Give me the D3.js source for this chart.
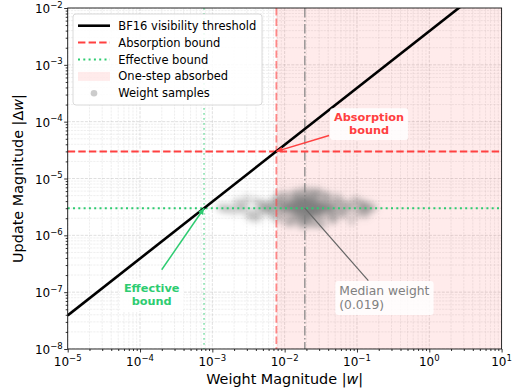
<!DOCTYPE html>
<html>
<head>
<meta charset="utf-8">
<script src="https://cdn.jsdelivr.net/npm/d3@7"></script>
<style>
  body { margin: 0; background: #fff; }
  svg { display: block; font-family: "DejaVu Sans", sans-serif; }
</style>
</head>
<body>
<svg id="chart" width="512" height="389"></svg>
<script>
// ---- data ----
const xDomain = [1e-5, 1e1];
const yDomain = [1e-8, 1e-2];
const xTickExps = [-5, -4, -3, -2, -1, 0, 1];
const yTickExps = [-8, -7, -6, -5, -4, -3, -2];

// BF16 has 8 significand bits: updates smaller than |w| / 2^8 vanish
const bf16Ratio = 1 / 256;
const absorptionW = 0.00768, absorptionDw = 3e-5;
const effectiveW = 0.000768, effectiveDw = 3e-6;
const medianW = 0.019, medianDw = 3e-6;

const legendLabels = ["BF16 visibility threshold", "Absorption bound", "Effective bound", "One-step absorbed", "Weight samples"];

// sampled weight magnitudes and their update magnitudes
const sampleW = [
  0.019, 0.022, 0.016, 0.025, 0.013, 0.031, 0.018, 0.021, 0.011, 0.027,
  0.017, 0.024, 0.020, 0.014, 0.035, 0.019, 0.023, 0.012, 0.029, 0.016,
  0.021, 0.018, 0.026, 0.015, 0.020, 0.033, 0.010, 0.022, 0.017, 0.028,
  0.019, 0.013, 0.024, 0.021, 0.016, 0.038, 0.020, 0.009, 0.025, 0.018,
  0.023, 0.015, 0.030, 0.019, 0.012, 0.026, 0.017, 0.022, 0.041, 0.014,
  0.020, 0.024, 0.016, 0.019, 0.032, 0.011, 0.021, 0.018, 0.027, 0.015,
  0.022, 0.019, 0.013, 0.029, 0.017, 0.024, 0.020, 0.036, 0.016, 0.021,
  0.010, 0.025, 0.018, 0.023, 0.014, 0.020, 0.031, 0.017, 0.022, 0.019,
  0.017, 0.023, 0.014, 0.028, 0.020, 0.012, 0.026, 0.018, 0.034, 0.015,
  0.021, 0.029, 0.016, 0.024, 0.011, 0.019, 0.037, 0.022, 0.013, 0.027,
  0.018, 0.031, 0.015, 0.025, 0.020, 0.009, 0.023, 0.017, 0.043, 0.014,
  0.026, 0.019, 0.012, 0.030, 0.021, 0.016, 0.024, 0.010, 0.028, 0.018,
  0.022, 0.015, 0.033, 0.020, 0.013, 0.025, 0.017, 0.039, 0.019, 0.023,
  0.011, 0.027, 0.016, 0.021, 0.035, 0.014, 0.024, 0.018, 0.029, 0.020,
  0.0060, 0.052, 0.0075, 0.046, 0.0085, 0.060, 0.0050, 0.043, 0.0068, 0.070,
  0.0080, 0.055, 0.0058, 0.048, 0.0090, 0.065, 0.0064, 0.040, 0.0072, 0.082,
  0.0055, 0.050, 0.0078, 0.058, 0.0045, 0.044, 0.0088, 0.075, 0.0066, 0.053,
  0.012, 0.037, 0.0095, 0.062, 0.0070, 0.047, 0.0052, 0.068, 0.0083, 0.042,
  0.015, 0.030, 0.011, 0.034, 0.024, 0.013, 0.028, 0.017, 0.039, 0.021,
  0.014, 0.033, 0.026, 0.010, 0.045, 0.019, 0.016, 0.027, 0.012, 0.036,
  0.0013, 0.15, 0.0020, 0.12, 0.0028, 0.13, 0.0035, 0.11, 0.0024, 0.14,
  0.0040, 0.10, 0.0017, 0.12, 0.0032, 0.17, 0.0046, 0.095, 0.0026, 0.13,
  0.0038, 0.090, 0.0022, 0.11, 0.0030, 0.14, 0.0044, 0.085, 0.0015, 0.12,
  0.018, 0.025, 0.014, 0.021, 0.030, 0.016, 0.022, 0.011, 0.027, 0.019
];
const sampleDw = [
  3.0e-6, 2.6e-6, 3.5e-6, 2.9e-6, 3.8e-6, 3.2e-6, 2.3e-6, 3.9e-6, 2.7e-6, 3.3e-6,
  3.6e-6, 2.4e-6, 3.0e-6, 4.3e-6, 2.9e-6, 2.1e-6, 3.5e-6, 3.2e-6, 2.6e-6, 4.1e-6,
  2.9e-6, 3.8e-6, 3.2e-6, 2.4e-6, 4.4e-6, 3.0e-6, 3.3e-6, 2.7e-6, 3.6e-6, 2.3e-6,
  3.9e-6, 3.0e-6, 2.6e-6, 3.5e-6, 2.9e-6, 3.2e-6, 4.6e-6, 3.3e-6, 2.7e-6, 3.8e-6,
  2.4e-6, 3.2e-6, 3.5e-6, 2.0e-6, 3.0e-6, 4.1e-6, 2.9e-6, 3.6e-6, 3.0e-6, 2.6e-6,
  3.3e-6, 4.3e-6, 2.7e-6, 3.2e-6, 2.4e-6, 3.6e-6, 2.9e-6, 3.9e-6, 3.2e-6, 3.0e-6,
  2.1e-6, 3.5e-6, 3.0e-6, 2.7e-6, 3.8e-6, 3.3e-6, 2.6e-6, 3.2e-6, 4.4e-6, 2.9e-6,
  3.3e-6, 2.4e-6, 3.6e-6, 3.0e-6, 2.7e-6, 3.9e-6, 2.9e-6, 3.5e-6, 2.3e-6, 3.2e-6,
  3.4e-6, 2.8e-6, 3.1e-6, 3.7e-6, 2.5e-6, 3.3e-6, 2.9e-6, 4.0e-6, 3.0e-6, 2.6e-6,
  3.5e-6, 3.1e-6, 2.2e-6, 3.9e-6, 3.2e-6, 2.7e-6, 3.4e-6, 2.4e-6, 3.8e-6, 3.0e-6,
  2.9e-6, 3.6e-6, 3.3e-6, 2.5e-6, 4.2e-6, 3.1e-6, 2.7e-6, 3.5e-6, 3.0e-6, 2.8e-6,
  3.2e-6, 2.3e-6, 3.6e-6, 3.4e-6, 2.9e-6, 4.1e-6, 3.0e-6, 2.6e-6, 3.3e-6, 3.7e-6,
  2.6e-6, 3.9e-6, 2.8e-6, 3.5e-6, 3.1e-6, 2.4e-6, 3.7e-6, 3.2e-6, 2.9e-6, 3.3e-6,
  3.0e-6, 3.5e-6, 2.7e-6, 2.5e-6, 3.1e-6, 3.4e-6, 3.9e-6, 2.8e-6, 2.6e-6, 3.2e-6,
  3.0e-6, 2.7e-6, 3.6e-6, 3.3e-6, 2.4e-6, 3.0e-6, 3.2e-6, 2.3e-6, 2.9e-6, 3.5e-6,
  3.9e-6, 4.1e-6, 2.6e-6, 2.0e-6, 3.2e-6, 2.6e-6, 3.8e-6, 4.4e-6, 2.1e-6, 3.0e-6,
  2.9e-6, 3.6e-6, 4.4e-6, 2.4e-6, 2.7e-6, 3.0e-6, 1.9e-6, 3.3e-6, 3.2e-6, 4.8e-6,
  1.6e-6, 5.3e-6, 4.3e-6, 3.8e-6, 2.4e-6, 1.8e-6, 3.5e-6, 2.3e-6, 5.0e-6, 2.7e-6,
  5.7e-6, 1.6e-6, 5.1e-6, 1.5e-6, 5.5e-6, 1.9e-6, 5.9e-6, 1.5e-6, 4.8e-6, 1.8e-6,
  5.3e-6, 2.0e-6, 1.6e-6, 5.0e-6, 2.1e-6, 6.1e-6, 1.8e-6, 5.5e-6, 2.0e-6, 4.6e-6,
  3.1e-6, 2.9e-6, 2.7e-6, 3.4e-6, 3.5e-6, 2.6e-6, 2.5e-6, 3.8e-6, 3.2e-6, 3.0e-6,
  4.0e-6, 2.4e-6, 3.0e-6, 3.2e-6, 2.2e-6, 3.1e-6, 3.6e-6, 4.3e-6, 2.8e-6, 2.3e-6,
  2.0e-6, 3.6e-6, 3.9e-6, 2.7e-6, 4.4e-6, 3.5e-6, 2.1e-6, 1.8e-6, 2.9e-6, 3.3e-6,
  5.6e-6, 1.6e-6, 5.2e-6, 1.7e-6, 5.4e-6, 1.8e-6, 5.9e-6, 1.7e-6, 5.0e-6, 1.5e-6
];

// ---- colours ----
const RED = "#ff4040", GREEN = "#2ecc71", GREY = "#808080";

// ---- layout ----
const svg = d3.select("#chart");
const plot = { left: 67.7, right: 501.6, top: 8, bottom: 349 };
const x = d3.scaleLog().domain(xDomain).range([plot.left, plot.right]);
const y = d3.scaleLog().domain(yDomain).range([plot.bottom, plot.top]);

svg.append("rect").attr("width", 512).attr("height", 389).attr("fill", "#fff");

const defs = svg.append("defs");
defs.append("clipPath").attr("id", "clip").append("rect")
  .attr("x", plot.left).attr("y", plot.top)
  .attr("width", plot.right - plot.left).attr("height", plot.bottom - plot.top);
defs.append("filter").attr("id", "soft").attr("x", "-20%").attr("y", "-50%").attr("width", "140%").attr("height", "200%")
  .append("feGaussianBlur").attr("stdDeviation", 3);
function arrowMarker(id, color) {
  defs.append("marker").attr("id", id).attr("viewBox", "0 0 10 10")
    .attr("refX", 9).attr("refY", 5).attr("markerWidth", 7).attr("markerHeight", 7)
    .attr("markerUnits", "userSpaceOnUse").attr("orient", "auto")
    .append("path").attr("d", "M0,1 L10,5 L0,9 Z").attr("fill", color);
}
arrowMarker("arrRed", RED);
arrowMarker("arrGreen", GREEN);

// ---- ticks / grid ----
const majorX = xTickExps.map(e => Math.pow(10, e));
const majorY = yTickExps.map(e => Math.pow(10, e));
function minors(exps) {
  const out = [];
  for (let i = 0; i < exps.length - 1; i++)
    for (let k = 2; k <= 9; k++) out.push(k * Math.pow(10, exps[i]));
  return out;
}
const minorX = minors(xTickExps), minorY = minors(yTickExps);

const grid = svg.append("g").attr("clip-path", "url(#clip)");
function gridLines(vals, vertical, opacity, width, dash) {
  grid.append("g").selectAll("line").data(vals).join("line")
    .attr("x1", d => vertical ? x(d) : plot.left).attr("x2", d => vertical ? x(d) : plot.right)
    .attr("y1", d => vertical ? plot.top : y(d)).attr("y2", d => vertical ? plot.bottom : y(d))
    .attr("stroke", "#b0b0b0").attr("stroke-opacity", opacity).attr("stroke-width", width).attr("stroke-dasharray", dash);
}
gridLines(minorX, true, 0.35, 0.6, "2.2,1");
gridLines(minorY, false, 0.35, 0.6, "2.2,1");
gridLines(majorX, true, 0.5, 0.8, "3,1.3");
gridLines(majorY, false, 0.5, 0.8, "3,1.3");

const body = svg.append("g").attr("clip-path", "url(#clip)");

// one-step absorbed region
body.append("rect")
  .attr("x", x(absorptionW)).attr("y", plot.top)
  .attr("width", x(xDomain[1]) - x(absorptionW)).attr("height", plot.bottom - plot.top)
  .attr("fill", "#ff0000").attr("fill-opacity", 0.08);

// weight samples
const samples = d3.zip(sampleW, sampleDw);
body.append("g").attr("filter", "url(#soft)")
  .selectAll("circle").data(samples).join("circle")
  .attr("cx", d => x(d[0])).attr("cy", d => y(d[1])).attr("r", 4.2)
  .attr("fill", GREY).attr("fill-opacity", 0.36);

// vertical / horizontal bounds
body.append("line").attr("x1", x(absorptionW)).attr("x2", x(absorptionW)).attr("y1", plot.top).attr("y2", plot.bottom)
  .attr("stroke", RED).attr("stroke-width", 1.8).attr("stroke-opacity", 0.6).attr("stroke-dasharray", "7.4,3.2");
body.append("line").attr("x1", x(effectiveW)).attr("x2", x(effectiveW)).attr("y1", plot.top).attr("y2", plot.bottom)
  .attr("stroke", GREEN).attr("stroke-width", 1.8).attr("stroke-opacity", 0.5).attr("stroke-dasharray", "1.8,3.2");
body.append("line").attr("x1", x(medianW)).attr("x2", x(medianW)).attr("y1", plot.top).attr("y2", plot.bottom)
  .attr("stroke", GREY).attr("stroke-width", 1.5).attr("stroke-opacity", 0.8).attr("stroke-dasharray", "9.6,2.4,1.5,2.4");
body.append("line").attr("x1", plot.left).attr("x2", plot.right).attr("y1", y(absorptionDw)).attr("y2", y(absorptionDw))
  .attr("stroke", RED).attr("stroke-width", 2).attr("stroke-dasharray", "7.4,3.2");
body.append("line").attr("x1", plot.left).attr("x2", plot.right).attr("y1", y(effectiveDw)).attr("y2", y(effectiveDw))
  .attr("stroke", GREEN).attr("stroke-width", 2).attr("stroke-dasharray", "2,3.3");

// BF16 visibility threshold: |dw| = |w| / 2^8
const lineW = [xDomain[0], xDomain[1]];
body.append("path")
  .attr("d", d3.line().x(d => x(d)).y(d => y(d * bf16Ratio))(lineW))
  .attr("fill", "none").attr("stroke", "#000").attr("stroke-width", 2.6);

// ---- axes ----
const axes = svg.append("g");
axes.append("rect").attr("x", plot.left).attr("y", plot.top)
  .attr("width", plot.right - plot.left).attr("height", plot.bottom - plot.top)
  .attr("fill", "none").attr("stroke", "#111").attr("stroke-width", 0.9);

const xAxis = d3.axisBottom(x).tickValues(majorX).tickSize(3.5).tickFormat("");
const xMinor = d3.axisBottom(x).tickValues(minorX).tickSize(2).tickFormat("");
const yAxis = d3.axisLeft(y).tickValues(majorY).tickSize(3.5).tickFormat("");
const yMinor = d3.axisLeft(y).tickValues(minorY).tickSize(2).tickFormat("");
[[xAxis, `translate(0,${plot.bottom})`], [xMinor, `translate(0,${plot.bottom})`],
 [yAxis, `translate(${plot.left},0)`], [yMinor, `translate(${plot.left},0)`]].forEach(([ax, tr]) => {
  const g = axes.append("g").attr("transform", tr).call(ax);
  g.select(".domain").remove();
  g.selectAll(".tick line").attr("stroke", "#000").attr("stroke-width", 0.8);
});

function powLabel(sel, exp) {
  sel.append("tspan").text("10");
  sel.append("tspan").attr("dy", -5.5).attr("font-size", 8.5).text(exp < 0 ? "\u2212" + (-exp) : String(exp));
}
xTickExps.forEach(e => {
  const t = axes.append("text").attr("x", x(Math.pow(10, e))).attr("y", 366)
    .attr("text-anchor", "middle").attr("font-size", 12).attr("fill", "#000");
  powLabel(t, e);
});
yTickExps.forEach(e => {
  const t = axes.append("text").attr("x", plot.left - 5).attr("y", y(Math.pow(10, e)) + 5)
    .attr("text-anchor", "end").attr("font-size", 12).attr("fill", "#000");
  powLabel(t, e);
});

// axis titles
const xt = axes.append("text").attr("x", (plot.left + plot.right) / 2).attr("y", 384)
  .attr("text-anchor", "middle").attr("font-size", 14.4).attr("fill", "#000");
xt.append("tspan").text("Weight Magnitude |");
xt.append("tspan").attr("font-style", "italic").text("w");
xt.append("tspan").text("|");
const yt = axes.append("text").attr("transform", `translate(23,${(plot.top + plot.bottom) / 2}) rotate(-90)`)
  .attr("text-anchor", "middle").attr("font-size", 14.4).attr("fill", "#000");
yt.append("tspan").text("Update Magnitude |\u0394");
yt.append("tspan").attr("font-style", "italic").text("w");
yt.append("tspan").text("|");

// ---- annotations ----
const ann = svg.append("g");
function boxedText(cx, cy, lines, opts) {
  const g = ann.append("g");
  const rect = g.append("rect");
  const t = g.append("text").attr("font-size", opts.size).attr("font-weight", opts.weight || "normal")
    .attr("fill", opts.color).attr("text-anchor", opts.anchor);
  lines.forEach((l, i) => t.append("tspan").attr("x", cx)
    .attr("y", cy + (i - (lines.length - 1) / 2) * opts.lh + opts.size * 0.36).text(l));
  const b = t.node().getBBox();
  rect.attr("x", b.x - 4).attr("y", b.y - 3).attr("width", b.width + 8).attr("height", b.height + 6)
    .attr("rx", 3).attr("fill", "#fff").attr("fill-opacity", 0.85);
}

// absorption bound
const absText = { w: 0.147, dw: 9.3e-5 };
boxedText(x(absText.w), y(absText.dw), ["Absorption", "bound"], { size: 11.3, weight: "bold", color: RED, anchor: "middle", lh: 12.8 });
ann.append("line").attr("x1", x(absText.w) - 40).attr("y1", y(absText.dw) + 12)
  .attr("x2", x(absorptionW)).attr("y2", y(absorptionDw))
  .attr("stroke", RED).attr("stroke-width", 1.5).attr("marker-end", "url(#arrRed)");

// effective bound
const effText = { w: 1.45e-4, dw: 9e-8 };
ann.append("line").attr("x1", x(effText.w) + 10).attr("y1", y(effText.dw) - 25)
  .attr("x2", x(effectiveW)).attr("y2", y(effectiveDw))
  .attr("stroke", GREEN).attr("stroke-width", 1.5).attr("marker-end", "url(#arrGreen)");
boxedText(x(effText.w), y(effText.dw), ["Effective", "bound"], { size: 11.3, weight: "bold", color: GREEN, anchor: "middle", lh: 12.8 });

// median weight
const medText = { w: 0.057, dw: 8e-8 };
ann.append("line").attr("x1", x(medText.w) + 29).attr("y1", y(medText.dw) - 17)
  .attr("x2", x(medianW)).attr("y2", y(medianDw))
  .attr("stroke", "#666").attr("stroke-width", 1.2);
boxedText(x(medText.w), y(medText.dw), ["Median weight", "(0.019)"], { size: 12.3, color: GREY, anchor: "start", lh: 14 });

// ---- legend ----
const lg = svg.append("g");
lg.append("rect").attr("x", 73).attr("y", 14).attr("width", 189).attr("height", 91).attr("rx", 3)
  .attr("fill", "#fff").attr("fill-opacity", 0.85).attr("stroke", "#d0d0d0").attr("stroke-width", 0.8);
const rowY = i => 25.7 + i * 16.9;
const hx0 = 78, hx1 = 110;
lg.append("line").attr("x1", hx0).attr("x2", hx1).attr("y1", rowY(0)).attr("y2", rowY(0))
  .attr("stroke", "#000").attr("stroke-width", 2.6);
lg.append("line").attr("x1", hx0).attr("x2", hx1).attr("y1", rowY(1)).attr("y2", rowY(1))
  .attr("stroke", RED).attr("stroke-width", 2).attr("stroke-dasharray", "7.4,3.2");
lg.append("line").attr("x1", hx0).attr("x2", hx1).attr("y1", rowY(2)).attr("y2", rowY(2))
  .attr("stroke", GREEN).attr("stroke-width", 2).attr("stroke-dasharray", "2,3.3");
lg.append("rect").attr("x", hx0).attr("y", rowY(3) - 4.5).attr("width", hx1 - hx0).attr("height", 9)
  .attr("fill", "#ff0000").attr("fill-opacity", 0.08);
lg.append("circle").attr("cx", (hx0 + hx1) / 2).attr("cy", rowY(4)).attr("r", 3.3)
  .attr("fill", GREY).attr("fill-opacity", 0.4);
legendLabels.forEach((l, i) => lg.append("text").attr("x", 118.3).attr("y", rowY(i) + 4)
  .attr("font-size", 11.5).attr("fill", "#000").text(l));
</script>
</body>
</html>
